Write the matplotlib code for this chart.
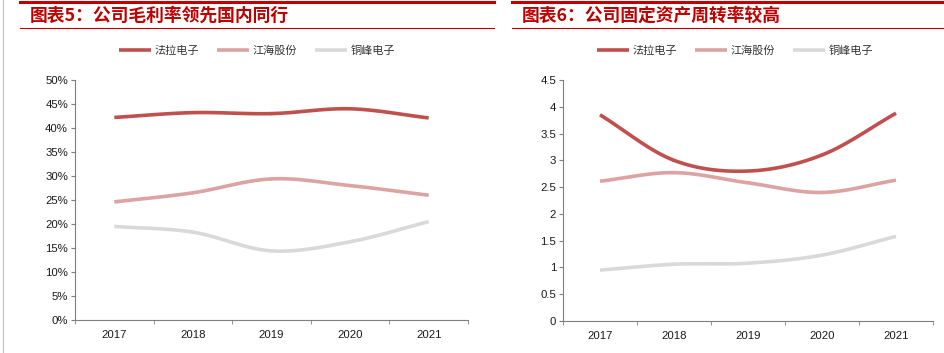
import numpy as np
import matplotlib.pyplot as plt
from matplotlib.lines import Line2D
from matplotlib.ticker import FuncFormatter

plt.rcParams['font.family'] = ['Liberation Sans', 'Noto Sans CJK SC', 'DejaVu Sans']

years = ['2017', '2018', '2019', '2020', '2021']
names = ['法拉电子', '江海股份', '铜峰电子']
colors = ['#C0504D', '#DDA3A3', '#D9D9D9']

# gross margin (%)
margin_fala = [42.2, 43.2, 43.0, 44.0, 42.1]
margin_jianghai = [24.6, 26.5, 29.4, 28.0, 26.0]
margin_tongfeng = [19.5, 18.3, 14.4, 16.3, 20.5]

# fixed asset turnover
turn_fala = [3.85, 3.0, 2.8, 3.1, 3.88]
turn_jianghai = [2.61, 2.77, 2.58, 2.40, 2.63]
turn_tongfeng = [0.95, 1.06, 1.08, 1.23, 1.58]

title_left = '图表5：公司毛利率领先国内同行'
title_right = '图表6：公司固定资产周转率较高'

W, H = 945, 353


def smooth(y, n=30):
    # catmull-rom curve through the points, like excel's smoothed line
    x = np.arange(len(y), dtype=float)
    y = np.asarray(y, dtype=float)
    px = np.concatenate([[2 * x[0] - x[1]], x, [2 * x[-1] - x[-2]]])
    py = np.concatenate([[2 * y[0] - y[1]], y, [2 * y[-1] - y[-2]]])
    xs, ys = [], []
    t = np.linspace(0, 1, n)
    for i in range(1, len(px) - 2):
        for p, out in ((px, xs), (py, ys)):
            p0, p1, p2, p3 = p[i - 1], p[i], p[i + 1], p[i + 2]
            out.append(0.5 * (2 * p1 + (-p0 + p2) * t
                              + (2 * p0 - 5 * p1 + 4 * p2 - p3) * t ** 2
                              + (-p0 + 3 * p1 - 3 * p2 + p3) * t ** 3))
    return np.concatenate(xs), np.concatenate(ys)


def px_box(x0, y0, x1, y1):
    return [x0 / W, (H - y1) / H, (x1 - x0) / W, (y1 - y0) / H]


def setup_axis(ax):
    for s in ['top', 'right']:
        ax.spines[s].set_visible(False)
    for s in ['left', 'bottom']:
        ax.spines[s].set_color('#7F7F7F')
        ax.spines[s].set_linewidth(0.8)
    ax.set_xlim(-0.5, 4.5)
    ax.set_xticks(range(5))
    ax.set_xticklabels(years)
    ax.set_xticks(np.arange(-0.5, 5, 1), minor=True)
    ax.tick_params(axis='x', which='major', length=0, pad=7, labelsize=8.2, labelcolor='#1A1A1A')
    ax.tick_params(axis='x', which='minor', length=3, color='#7F7F7F')
    ax.tick_params(axis='y', length=3, color='#7F7F7F', labelsize=8.2, pad=2, labelcolor='#1A1A1A')


fig = plt.figure(figsize=(W / 100, H / 100), dpi=100)

# decorative header lines
fig.add_artist(Line2D([20 / W, 494 / W], [1 - 1.5 / H] * 2, color='#C00000', lw=2.2))
fig.add_artist(Line2D([512 / W, 945 / W], [1 - 1.5 / H] * 2, color='#C00000', lw=2.2))
fig.add_artist(Line2D([20 / W, 494 / W], [1 - 28 / H] * 2, color='#C00000', lw=0.8))
fig.add_artist(Line2D([512 / W, 945 / W], [1 - 28 / H] * 2, color='#C00000', lw=0.8))
fig.add_artist(Line2D([3 / W, 3 / W], [0, 1], color='#BFBFBF', lw=0.8))

fig.text(30 / W, 1 - 16 / H, title_left, color='#C00000', fontsize=12.8, fontweight='bold',
         family=['Noto Sans CJK SC', 'DejaVu Sans'], va='center', ha='left')
fig.text(522 / W, 1 - 16 / H, title_right, color='#C00000', fontsize=12.8, fontweight='bold',
         family=['Noto Sans CJK SC', 'DejaVu Sans'], va='center', ha='left')

# left panel
ax1 = fig.add_axes(px_box(75, 80, 468, 320))
for vals, c, nm in zip([margin_fala, margin_jianghai, margin_tongfeng], colors, names):
    sx, sy = smooth(vals)
    ax1.plot(sx, sy, color=c, lw=2.6, solid_capstyle='butt', label=nm)
setup_axis(ax1)
ax1.set_ylim(0, 50)
ax1.set_yticks(np.arange(0, 51, 5))
ax1.yaxis.set_major_formatter(FuncFormatter(lambda v, p: f'{v:.0f}%'))
ax1.legend(loc='center', bbox_to_anchor=(257 / W, 1 - 51 / H), bbox_transform=fig.transFigure,
           ncol=3, frameon=False, handlelength=2.9, handletextpad=0.3, columnspacing=1.6,
           labelcolor='#333333', prop={'family': 'Noto Sans CJK SC', 'size': 8})

# right panel
ax2 = fig.add_axes(px_box(563, 80, 933, 321))
for vals, c, nm in zip([turn_fala, turn_jianghai, turn_tongfeng], colors, names):
    sx, sy = smooth(vals)
    ax2.plot(sx, sy, color=c, lw=2.6, solid_capstyle='butt', label=nm)
setup_axis(ax2)
ax2.set_ylim(0, 4.5)
ax2.set_yticks(np.arange(0, 4.51, 0.5))
ax2.yaxis.set_major_formatter(FuncFormatter(lambda v, p: f'{v:g}'))
ax2.legend(loc='center', bbox_to_anchor=(735 / W, 1 - 51 / H), bbox_transform=fig.transFigure,
           ncol=3, frameon=False, handlelength=2.9, handletextpad=0.3, columnspacing=1.6,
           labelcolor='#333333', prop={'family': 'Noto Sans CJK SC', 'size': 8})

fig.savefig('out.png', dpi=100)
